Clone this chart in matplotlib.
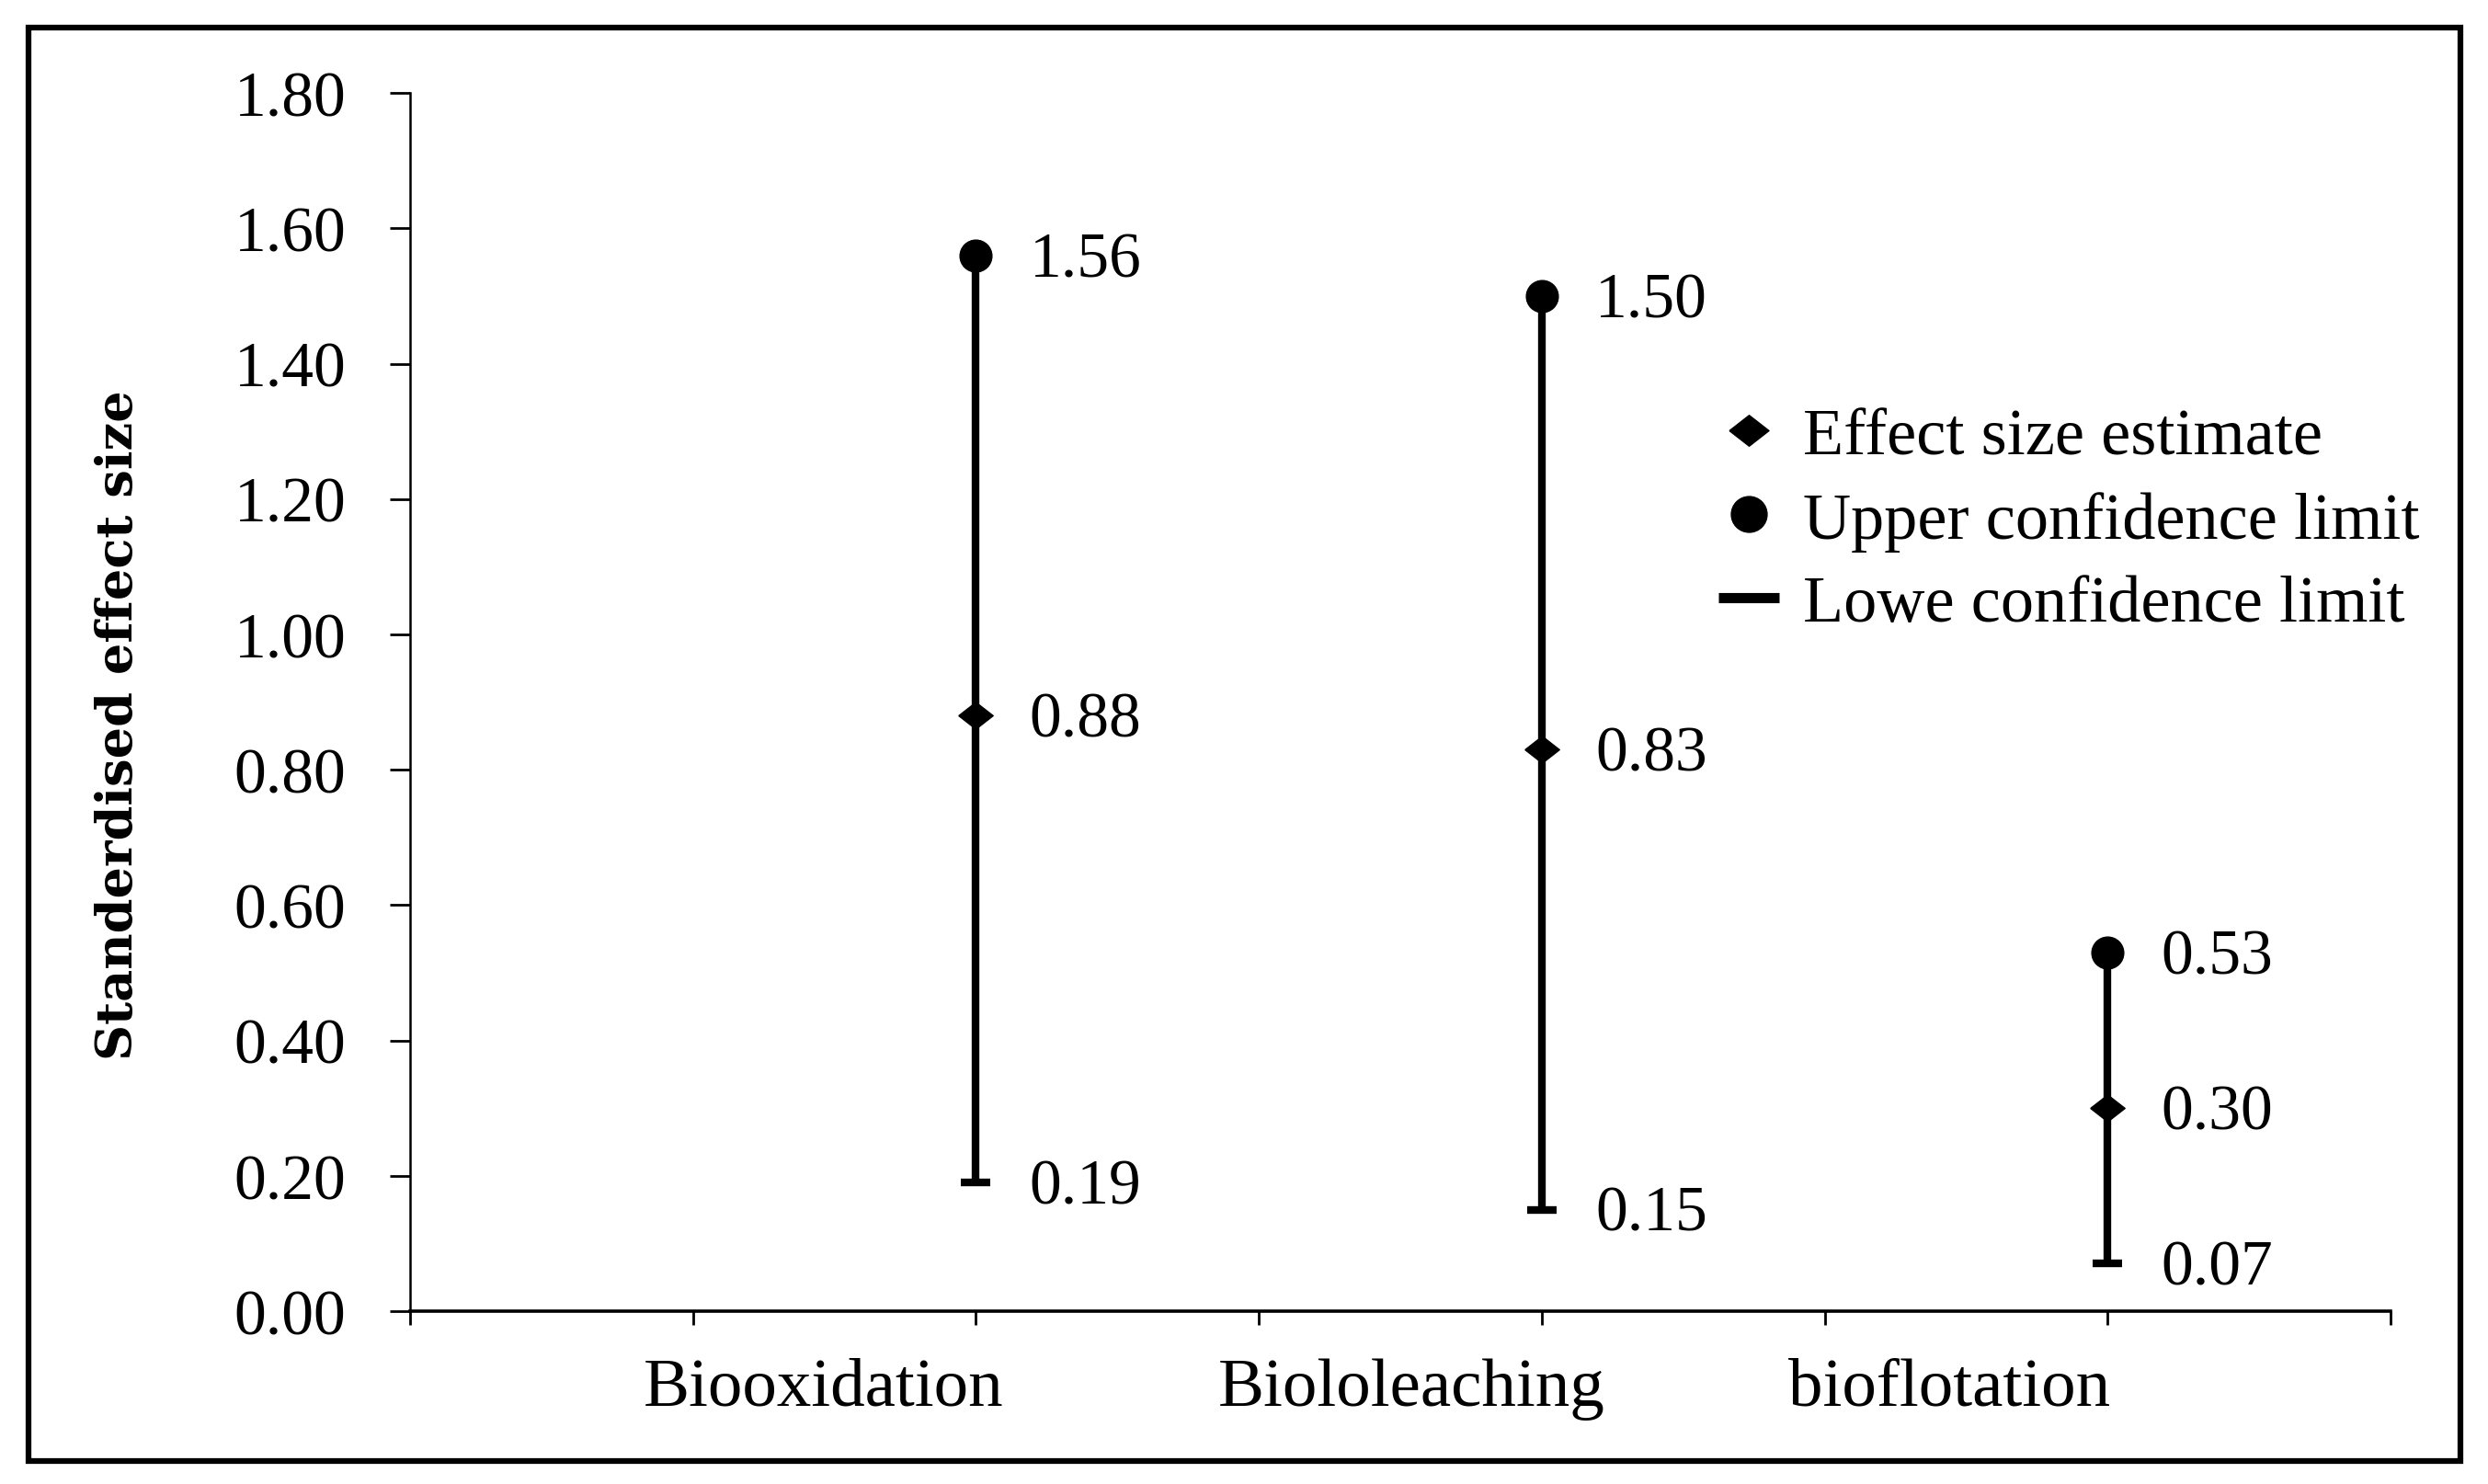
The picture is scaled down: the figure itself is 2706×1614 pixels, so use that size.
import matplotlib
matplotlib.use("Agg")
import matplotlib.pyplot as plt
import numpy as np
from matplotlib.lines import Line2D
from matplotlib.patches import Rectangle

categories = ["Biooxidation", "Biololeaching", "bioflotation"]
estimate = [0.88, 0.83, 0.30]
upper = [1.56, 1.50, 0.53]
lower = [0.19, 0.15, 0.07]
yticks = [0.0, 0.2, 0.4, 0.6, 0.8, 1.0, 1.2, 1.4, 1.6, 1.8]

x = np.arange(1, len(categories) + 1)
label_pos = x - np.array([0.27, 0.23, 0.28])

plt.rcParams['font.family'] = ['Liberation Serif', 'DejaVu Serif']

fig = plt.figure(figsize=(27.06, 16.15), dpi=100)
ax = fig.add_axes([0.1648, 0.1164, 0.796, 0.8204])

# flattened diamond like the excel marker
diamond = [(-1, 0), (0, 0.78), (1, 0), (0, -0.78), (-1, 0)]

ax.vlines(x, lower, upper, color='black', lw=6, zorder=2)
ax.plot(x, upper, 'o', color='black', ms=25, ls='none', zorder=3)
ax.plot(x, estimate, marker=diamond, color='black', ms=27, ls='none', zorder=3)
ax.plot(x, lower, '_', color='black', ms=23, mew=6, ls='none', zorder=3)

for xi, vals in zip(x, zip(upper, estimate, lower)):
    for v in vals:
        ax.annotate("%.2f" % v, (xi, v), xytext=(42, -4), textcoords='offset points',
                    ha='left', va='center', fontsize=50)

ax.set_xlim(0, 3.5)
ax.set_ylim(0, 1.8)
ax.set_yticks(yticks)
ax.set_yticklabels(["%.2f" % t for t in yticks], fontsize=50)
ax.set_xticks(np.arange(0, 3.51, 0.5))
ax.set_xticklabels([])
ax.set_xticks(label_pos, minor=True)
ax.set_xticklabels(categories, minor=True, fontsize=54)
ax.tick_params(axis='x', which='major', direction='out', length=11, width=2)
ax.tick_params(axis='x', which='minor', length=0, pad=36)
ax.tick_params(axis='y', direction='out', length=16, width=2, pad=34)

ax.spines['top'].set_visible(False)
ax.spines['right'].set_visible(False)
ax.spines['left'].set_linewidth(1.8)
ax.spines['bottom'].set_linewidth(2.6)

ax.set_ylabel("Standerdised effect size", fontsize=39, fontweight='bold',
              family=['DejaVu Serif'])
ax.yaxis.set_label_coords(-0.135, 0.482)

handles = [
    Line2D([], [], marker=diamond, color='black', ms=31, ls='none'),
    Line2D([], [], marker='o', color='black', ms=28, ls='none'),
    Line2D([], [], marker='_', color='black', ms=48, mew=8, ls='none'),
]
ax.legend(handles, ["Effect size estimate", "Upper confidence limit", "Lowe confidence limit"],
          loc='upper left', bbox_to_anchor=(0.659, 0.742), frameon=False, fontsize=52,
          handlelength=1.0, handletextpad=0.32, labelspacing=0.35, borderaxespad=0,
          borderpad=0)

fig.patches.append(Rectangle((0.0115, 0.0155), 0.9774, 0.9653, transform=fig.transFigure,
                             fill=False, edgecolor='black', lw=4.5))

fig.savefig("out.png", dpi=100)
